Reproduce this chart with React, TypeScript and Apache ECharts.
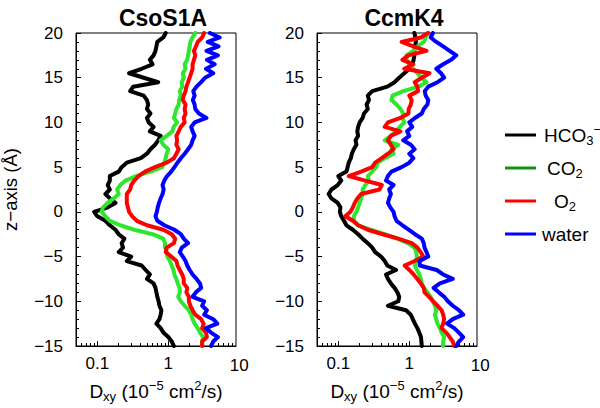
import React, { useEffect, useRef } from "react";
import * as echarts from "echarts";

const FONT = "'Liberation Sans', Arial, Helvetica, sans-serif";

// z positions (Å), top to bottom
const Z = [
  20, 19.5, 19, 18.5, 18, 17.5, 17, 16.5, 16, 15.5,
  15, 14.5, 14, 13.5, 13, 12.5, 12, 11.5, 11, 10.5,
  10, 9.5, 9, 8.5, 8, 7.5, 7, 6.5, 6, 5.5,
  5, 4.5, 4, 3.5, 3, 2.5, 2, 1.5, 1, 0.5,
  0, -0.5, -1, -1.5, -2, -2.5, -3, -3.5, -4, -4.5,
  -5, -5.5, -6, -6.5, -7, -7.5, -8, -8.5, -9, -9.5,
  -10, -10.5, -11, -11.5, -12, -12.5, -13, -13.5, -14, -14.5,
  -15,
];

// CsoS1A  D_xy (10^-5 cm^2/s)
const CSO_HCO3 = [
  0.92, 0.85, 0.7, 0.68, 0.66, 0.62, 0.55, 0.6, 0.42, 0.28,
  0.45, 0.72, 0.32, 0.29, 0.45, 0.5, 0.52, 0.5, 0.56, 0.5,
  0.53, 0.62, 0.55, 0.78, 0.72, 0.65, 0.56, 0.5, 0.41, 0.26,
  0.22, 0.2, 0.15, 0.15, 0.14, 0.15, 0.13, 0.15, 0.18, 0.14,
  0.09, 0.1, 0.13, 0.15, 0.18, 0.2, 0.24, 0.22, 0.23, 0.2,
  0.3, 0.26, 0.42, 0.48, 0.55, 0.5, 0.62, 0.66, 0.68, 0.7,
  0.73, 0.75, 0.8, 0.78, 0.75, 0.68, 0.78, 0.85, 1.0, 1.12,
  1.2,
];
const CSO_CO2 = [
  2.4, 2.2, 2.05, 2.0, 1.95, 1.9, 1.85, 1.7, 1.75, 1.6,
  1.66, 1.55, 1.57, 1.45, 1.5, 1.42, 1.4, 1.3, 1.25, 1.2,
  1.33, 1.19, 1.14, 0.95, 0.78, 0.85, 1.0, 0.95, 0.92, 0.88,
  0.82, 0.56, 0.35, 0.25, 0.21, 0.19, 0.2, 0.17, 0.14, 0.12,
  0.115, 0.13, 0.15, 0.21, 0.33, 0.6, 0.85, 0.9, 0.9, 0.95,
  0.97, 1.05, 1.12, 1.18, 1.22, 1.3, 1.36, 1.44, 1.46, 1.38,
  1.5, 1.7, 1.95, 2.1, 2.2, 2.35, 2.6, 2.8, 3.1, 3.0,
  3.0,
];
const CSO_O2 = [
  3.2, 3.0, 2.6, 2.45, 2.3, 2.4, 2.3, 2.2, 2.2, 2.1,
  2.0, 1.9, 1.8, 1.75, 1.65, 1.6, 1.75, 1.7, 1.75, 1.65,
  1.7, 1.5, 1.4, 1.3, 1.33, 1.3, 1.4, 1.3, 1.2, 0.95,
  0.65, 0.47, 0.38, 0.33, 0.3, 0.29, 0.26, 0.26, 0.26, 0.27,
  0.28, 0.31, 0.36, 0.5, 0.85, 1.12, 1.25, 1.2, 0.95, 0.92,
  1.1, 1.3, 1.35, 1.45, 1.57, 1.65, 1.65, 1.85, 1.8, 1.95,
  1.95, 2.05, 2.2, 2.4, 2.9, 3.15, 3.0, 3.4, 3.5, 3.0,
  3.0,
];
const CSO_WATER = [
  3.85, 5.3, 3.6, 5.1, 3.45, 5.0, 3.5, 4.5, 3.4, 4.3,
  3.3, 2.9, 2.5, 2.25, 2.35, 2.22, 2.35, 2.4, 2.7, 3.45,
  2.35, 2.1, 2.2, 2.35, 2.2, 2.1, 1.9, 1.7, 1.5, 1.35,
  1.22, 1.1, 0.96, 0.88, 0.83, 0.86, 0.83, 0.78, 0.74, 0.71,
  0.69, 0.66, 0.7, 0.88, 1.22, 1.5, 1.65, 1.9, 1.55, 1.45,
  1.6, 1.75, 1.85, 2.0, 2.2, 2.5, 2.8, 2.9, 2.45, 2.2,
  3.2, 3.0, 3.5, 3.2, 4.3, 4.9, 3.4, 4.0, 5.0, 4.3,
  4.0,
];

// CcmK4
const CCM_HCO3 = [
  1.18, 1.22, 1.24, 1.2, 1.18, 1.18, 1.15, 1.1, 1.0, 0.85,
  0.72, 0.62, 0.49, 0.3, 0.26, 0.27, 0.25, 0.26, 0.23, 0.22,
  0.2, 0.19, 0.185, 0.19, 0.175, 0.18, 0.165, 0.155, 0.15, 0.14,
  0.135, 0.13, 0.1, 0.11, 0.098, 0.08, 0.073, 0.08, 0.098, 0.107,
  0.105, 0.11, 0.12, 0.13, 0.16, 0.19, 0.22, 0.26, 0.3, 0.33,
  0.4, 0.45, 0.49, 0.65, 0.47, 0.5, 0.55, 0.62, 0.68, 0.72,
  0.7, 0.5, 0.9, 1.05, 1.12, 1.2, 1.3, 1.38, 1.46, 1.48,
  1.5,
];
const CCM_CO2 = [
  1.82, 1.7, 1.6, 1.3, 1.14, 0.91, 0.92, 1.0, 1.14, 1.3,
  1.49, 1.75, 1.35, 0.82, 0.58, 0.56, 0.66, 0.75, 0.82, 0.8,
  0.85, 0.73, 0.65, 0.55, 0.45, 0.7, 0.56, 0.6, 0.45, 0.36,
  0.34, 0.3, 0.26, 0.27, 0.24, 0.22, 0.22, 0.21, 0.2, 0.19,
  0.18, 0.165, 0.166, 0.19, 0.285, 0.45, 0.68, 0.95, 1.18, 1.25,
  1.28, 1.25, 1.2, 1.28, 1.39, 1.45, 1.5, 1.6, 1.8, 2.0,
  2.15, 2.3, 2.4, 2.3, 2.39, 2.5, 2.7, 2.85, 3.1, 3.0,
  2.98,
];
const CCM_O2 = [
  1.85, 1.45, 0.78, 1.14, 1.75, 0.97, 0.8, 1.14, 0.85, 1.93,
  1.5, 1.19, 1.3, 1.33, 1.0, 1.08, 1.05, 0.98, 0.97, 0.75,
  0.5, 0.45, 0.75, 0.55, 0.5, 0.55, 0.6, 0.5, 0.41, 0.33,
  0.3, 0.21, 0.14, 0.24, 0.41, 0.38, 0.21, 0.185, 0.17, 0.16,
  0.148, 0.125, 0.16, 0.19, 0.26, 0.42, 0.7, 1.08, 1.3, 1.45,
  1.57, 1.19, 0.86, 1.0, 1.15, 1.3, 1.45, 1.6, 1.64, 1.9,
  2.17, 2.5, 2.85, 3.0, 3.1, 3.0, 2.85, 3.3, 3.7, 4.1,
  4.3,
];
const CCM_WATER = [
  2.15, 2.0, 2.4, 3.0, 3.7, 4.6, 3.9, 3.0, 2.4, 2.8,
  3.1, 2.5, 1.85, 1.65, 1.7, 1.85, 1.8, 1.6, 1.5, 1.2,
  1.0, 1.1, 0.93, 1.0, 0.82, 1.05, 1.19, 1.0, 1.14, 1.0,
  0.78, 0.56, 0.5, 0.47, 0.6, 0.52, 0.55, 0.52, 0.5, 0.54,
  0.6, 0.62, 0.66, 0.8, 0.98, 1.2, 1.5, 1.6, 1.64, 1.75,
  1.85, 1.4, 1.4, 2.43, 3.0, 4.1, 2.7, 2.2, 2.6, 3.1,
  3.5, 4.1, 5.0, 5.75, 4.1, 3.4, 4.3, 5.0, 5.75, 5.0,
  4.6,
];

const PANEL_TITLES = ["CsoS1A", "CcmK4"];
const SERIES_NAMES = ["HCO3-", "CO2", "O2", "water"];
const LEGEND_LABELS = [
  "{p2|HCO}{sub|3}{sup|\u2212}",
  "{p5|CO}{sub|2}",
  "{p12|O}{sub|2}",
  "{b|water}",
];
const LINE_COLORS = ["#000000", "#2ee62e", "#ff0000", "#0000ff"];
const LEGEND_COLORS = ["#000000", "#129012", "#ff0000", "#0000ff"];
const X_MINOR_TICKS = [0.06, 0.07, 0.08, 0.09, 0.2, 0.3, 0.4, 0.5, 0.6, 0.7, 0.8, 0.9, 2, 3, 4, 5, 6, 7, 8];
const X_EXTRA_LABEL = 10;
const X_NAME = "D{sub|xy} (10{sup|\u22125} cm{sup|2}/s)";
const Y_NAME = "z\u2212axis (\u00c5)";

const PANELS = [
  [CSO_HCO3, CSO_CO2, CSO_O2, CSO_WATER],
  [CCM_HCO3, CCM_CO2, CCM_O2, CCM_WATER],
];

const GRID_LEFTS = [76, 317];
const GRID_TOP = 33;
const GRID_W = 160;
const GRID_H = 315;
const XLABEL_MARGIN = 9;

const richText = (base: number, small: number) => ({
  b: { fontSize: base, lineHeight: base + 5, fontFamily: FONT, color: "#000" },
  sub: { fontSize: small, lineHeight: small, verticalAlign: "bottom", fontFamily: FONT, color: "#000" },
  sup: { fontSize: small, lineHeight: small, verticalAlign: "top", fontFamily: FONT, color: "#000" },
  p2: { fontSize: base, lineHeight: base + 5, fontFamily: FONT, color: "#000", padding: [0, 0, 0, 2] },
  p5: { fontSize: base, lineHeight: base + 5, fontFamily: FONT, color: "#000", padding: [0, 0, 0, 5] },
  p12: { fontSize: base, lineHeight: base + 5, fontFamily: FONT, color: "#000", padding: [0, 0, 0, 12] },
});

export default function App() {
  const ref = useRef<HTMLDivElement>(null);

  useEffect(() => {
    if (!ref.current) return;
    const chart = echarts.init(ref.current, undefined, { renderer: "svg" });

    const grids = GRID_LEFTS.map((l) => ({
      left: l,
      top: GRID_TOP,
      width: GRID_W,
      height: GRID_H,
      show: true,
      borderColor: "#000",
      borderWidth: 1,
      backgroundColor: "transparent",
    }));

    const mainX = [0, 1].map((gi) => ({
      type: "log",
      logBase: 10,
      gridIndex: gi,
      min: 0.05,
      max: 9,
      axisLine: { show: true, onZero: false, lineStyle: { color: "#000", width: 1 } },
      axisTick: { show: true, inside: true, length: 5, lineStyle: { color: "#000" } },
      axisLabel: {
        fontSize: 17,
        color: "#000",
        fontFamily: FONT,
        margin: XLABEL_MARGIN,
        showMinLabel: false,
        showMaxLabel: false,
      },
      splitLine: { show: false },
      name: X_NAME,
      nameLocation: "middle",
      nameGap: 33,
      nameTextStyle: {
        fontSize: 19,
        lineHeight: 24,
        color: "#000",
        fontFamily: FONT,
        rich: richText(19, 13),
      },
    }));
    const minorX = [0, 1].map((gi) => ({
      type: "log",
      logBase: 10,
      gridIndex: gi,
      min: 0.05,
      max: 9,
      position: "bottom",
      axisLine: { show: false, onZero: false },
      axisLabel: { show: false },
      splitLine: { show: false },
      axisTick: {
        show: true,
        inside: true,
        length: 3,
        customValues: X_MINOR_TICKS,
        lineStyle: { color: "#000" },
      },
    }));

    const yAxes = [0, 1].map((gi) => ({
      type: "value",
      gridIndex: gi,
      min: -15,
      max: 20,
      interval: 5,
      axisLine: { show: true, onZero: false, lineStyle: { color: "#000", width: 1 } },
      axisTick: { show: true, inside: true, length: 5, lineStyle: { color: "#000" } },
      minorTick: { show: true, splitNumber: 5, length: 3, lineStyle: { color: "#000" } },
      splitLine: { show: false },
      minorSplitLine: { show: false },
      axisLabel: {
        fontSize: 17,
        color: "#000",
        fontFamily: FONT,
        margin: 13,
        formatter: (v: number) => String(v).replace("-", "\u2212"),
      },
      name: gi === 0 ? Y_NAME : "",
      nameLocation: "middle",
      nameGap: 56,
      nameTextStyle: { fontSize: 18.5, color: "#000", fontFamily: FONT },
    }));

    const series: any[] = [];
    PANELS.forEach((sets, gi) => {
      sets.forEach((vals, si) => {
        series.push({
          type: "line",
          name: SERIES_NAMES[si],
          xAxisIndex: gi,
          yAxisIndex: gi,
          data: vals.map((v, i) => [v, Z[i]]),
          symbol: "none",
          silent: true,
          z: 2 + si,
          lineStyle: { width: 4, color: LINE_COLORS[si], join: "round", cap: "round" },
          itemStyle: { color: LINE_COLORS[si] },
        });
      });
    });

    const option: any = {
      animation: false,
      backgroundColor: "#fff",
      textStyle: { fontFamily: FONT },
      title: PANEL_TITLES.map((t, i) => ({
        text: t,
        left: GRID_LEFTS[i] + GRID_W / 2 + 2,
        top: 1,
        textAlign: "center",
        textStyle: { fontSize: 23, fontWeight: "bold", color: "#000", fontFamily: FONT },
      })),
      legend: {
        orient: "vertical",
        left: 500,
        top: 118,
        icon: "rect",
        itemWidth: 31,
        itemHeight: 3,
        itemGap: 9,
        selectedMode: false,
        data: SERIES_NAMES.map((n, i) => ({
          name: n,
          icon: "rect",
          itemStyle: { color: LEGEND_COLORS[i], borderWidth: 0 },
        })),
        formatter: (n: string) => LEGEND_LABELS[SERIES_NAMES.indexOf(n)],
        textStyle: {
          fontSize: 19,
          lineHeight: 24,
          color: "#000",
          fontFamily: FONT,
          padding: [0, 0, 0, 1],
          rich: richText(19, 13),
        },
      },
      grid: grids,
      xAxis: [...mainX, ...minorX],
      yAxis: yAxes,
      series,
    };

    chart.setOption(option);

    const extra = [0, 1].map((i) => {
      const px = chart.convertToPixel({ xAxisIndex: i } as any, X_EXTRA_LABEL) as number;
      return {
        type: "text",
        x: px,
        y: GRID_TOP + GRID_H + XLABEL_MARGIN,
        silent: true,
        style: {
          text: String(X_EXTRA_LABEL),
          fontSize: 17,
          fontFamily: FONT,
          fill: "#000",
          align: "center",
          verticalAlign: "top",
        },
      };
    });
    chart.setOption({ graphic: extra });

    return () => chart.dispose();
  }, []);

  return (
    <div
      ref={ref}
      style={{ position: "absolute", left: 0, top: 0, width: 600, height: 408, background: "#fff" }}
    />
  );
}
